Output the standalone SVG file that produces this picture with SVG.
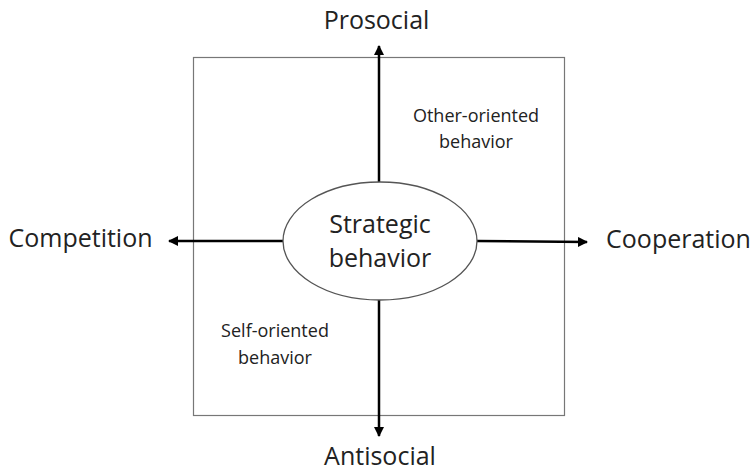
<svg xmlns="http://www.w3.org/2000/svg" width="755" height="471" viewBox="0 0 755 471">
<style>
text{font-family:"Open Sans","Noto Sans",sans-serif;fill:#222;text-anchor:middle}
.big{font-size:25px}
.mid{font-size:18px}
.arr{stroke:#000;stroke-width:2.5;fill:none}
</style>
<defs>
<marker id="ah" viewBox="0 0 10 10" refX="9" refY="5" markerWidth="4" markerHeight="4" orient="auto" markerUnits="strokeWidth">
<path d="M0,0 L10,5 L0,10 Z" fill="#000"/>
</marker>
</defs>
<rect x="0" y="0" width="755" height="471" fill="#fff"/>
<g id="frame"><rect x="193.5" y="57.5" width="371" height="358" fill="none" stroke="#777" stroke-width="1.2"/></g>
<g id="connectors">
<line class="arr" x1="379" y1="182" x2="379" y2="46" marker-end="url(#ah)"/>
<line class="arr" x1="379" y1="300" x2="379" y2="436" marker-end="url(#ah)"/>
<line class="arr" x1="283" y1="241" x2="169" y2="241" marker-end="url(#ah)"/>
<line class="arr" x1="477" y1="241" x2="587" y2="242" marker-end="url(#ah)"/>
</g>
<g id="center">
<ellipse cx="380" cy="241" rx="97" ry="59" fill="#fff" stroke="#555" stroke-width="1.3"/>
<text class="big" x="380" y="233">Strategic</text>
<text class="big" x="380" y="267">behavior</text>
</g>
<g id="prosocial"><text class="big" x="376.5" y="29">Prosocial</text></g>
<g id="antisocial"><text class="big" x="380" y="465">Antisocial</text></g>
<g id="competition"><text class="big" x="80.5" y="247">Competition</text></g>
<g id="cooperation"><text class="big" x="678.5" y="248">Cooperation</text></g>
<g id="other"><text class="mid" x="476" y="122">Other-oriented</text><text class="mid" x="476" y="148">behavior</text></g>
<g id="self"><text class="mid" x="275" y="337">Self-oriented</text><text class="mid" x="275" y="364">behavior</text></g>
</svg>
